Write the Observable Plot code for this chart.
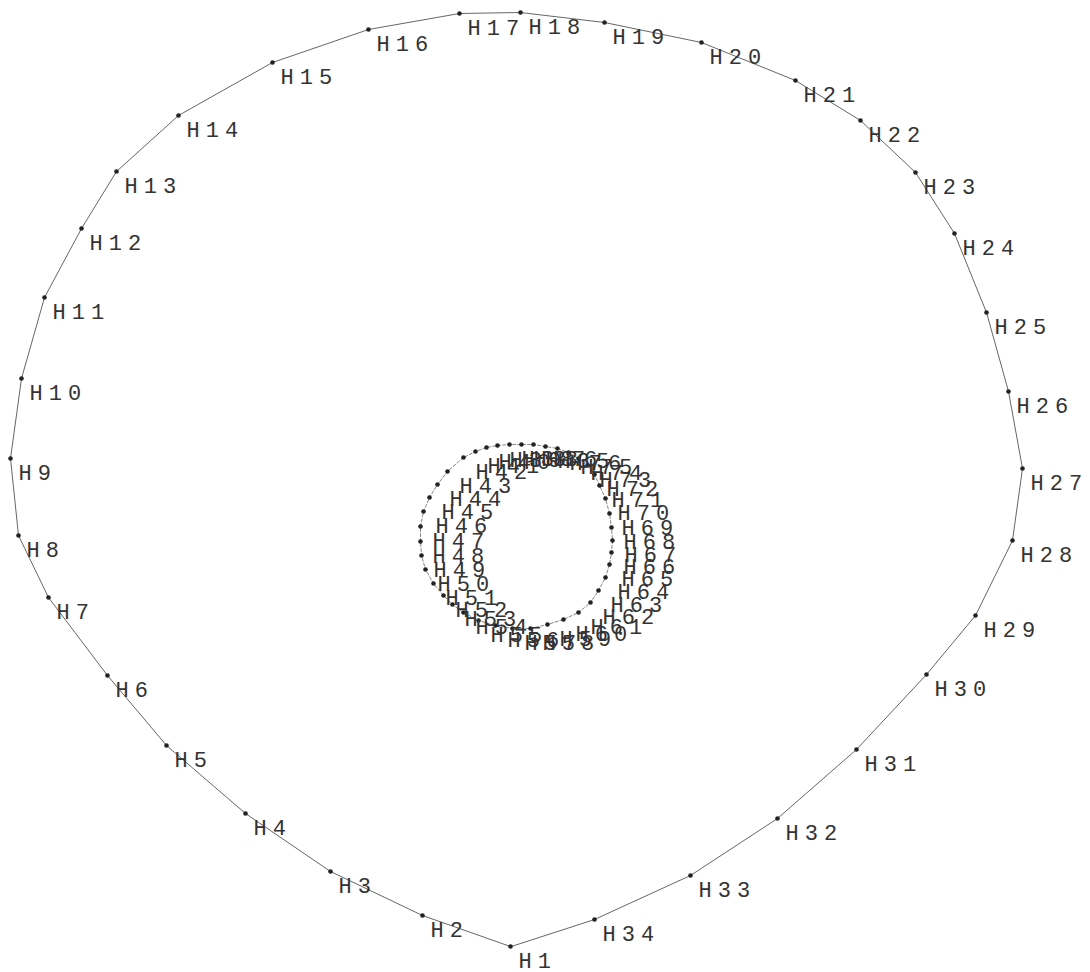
<!DOCTYPE html>
<html>
<head>
<meta charset="utf-8">
<script src="https://cdn.jsdelivr.net/npm/d3@7"></script>
<script src="https://cdn.jsdelivr.net/npm/@observablehq/plot@0.6"></script>
<style>
  html, body { margin: 0; padding: 0; background: #fff; }
  #chart svg { display: block; }
</style>
</head>
<body>
<div id="chart"></div>
<script>
// Outer contour points H1..H34 (x, y in section units)
const outerNames = ["H1","H2","H3","H4","H5","H6","H7","H8","H9","H10","H11","H12","H13","H14","H15","H16","H17","H18","H19","H20","H21","H22","H23","H24","H25","H26","H27","H28","H29","H30","H31","H32","H33","H34"];
const outerX = [-0.05,-0.93,-1.85,-2.70,-3.49,-4.08,-4.67,-4.97,-5.05,-4.94,-4.71,-4.34,-3.99,-3.37,-2.43,-1.47,-0.56,0.05,0.89,1.86,2.80,3.45,4.00,4.39,4.71,4.93,5.07,4.97,4.60,4.11,3.41,2.62,1.75,0.79];
const outerY = [-4.66,-4.35,-3.91,-3.33,-2.65,-1.95,-1.17,-0.55,0.22,1.02,1.83,2.52,3.09,3.65,4.18,4.51,4.67,4.68,4.58,4.38,4.00,3.60,3.08,2.47,1.68,0.89,0.12,-0.60,-1.35,-1.94,-2.69,-3.38,-3.95,-4.39];

// Inner ring points H35..H76
const innerNames = ["H35","H36","H37","H38","H39","H40","H41","H42","H43","H44","H45","H46","H47","H48","H49","H50","H51","H52","H53","H54","H55","H56","H57","H58","H59","H60","H61","H62","H63","H64","H65","H66","H67","H68","H69","H70","H71","H72","H73","H74","H75","H76"];
const innerX = [0.30,0.18,0.06,-0.06,-0.18,-0.29,-0.40,-0.52,-0.68,-0.78,-0.86,-0.92,-0.95,-0.95,-0.94,-0.90,-0.82,-0.72,-0.63,-0.52,-0.37,-0.20,-0.03,0.15,0.32,0.48,0.63,0.75,0.83,0.90,0.94,0.96,0.97,0.96,0.94,0.90,0.84,0.79,0.72,0.63,0.53,0.42];
const innerY = [0.34,0.36,0.36,0.36,0.35,0.33,0.29,0.23,0.09,-0.04,-0.17,-0.31,-0.46,-0.61,-0.75,-0.89,-1.03,-1.15,-1.24,-1.32,-1.40,-1.45,-1.48,-1.48,-1.44,-1.39,-1.32,-1.22,-1.10,-0.97,-0.84,-0.72,-0.60,-0.47,-0.33,-0.18,-0.05,0.06,0.15,0.22,0.28,0.32];

const outer = outerNames.map((name, i) => ({name, x: outerX[i], y: outerY[i]}));
const inner = innerNames.map((name, i) => ({name, x: innerX[i], y: innerY[i]}));

const labelFont = "'Liberation Mono', 'DejaVu Sans Mono', monospace";

const chart = Plot.plot({
  width: 1090,
  height: 972,
  margin: 0,
  style: "background: #fff; letter-spacing: 6px;",
  x: {domain: [-5.15, 5.75], axis: null},
  y: {domain: [-4.92, 4.80], axis: null},
  marks: [
    Plot.line(outer, {x: "x", y: "y", curve: "linear-closed", stroke: "#666", strokeWidth: 1}),
    Plot.line(inner, {x: "x", y: "y", curve: "linear-closed", stroke: "#888", strokeWidth: 1, strokeDasharray: "3,2"}),
    Plot.dot(outer, {x: "x", y: "y", r: 2.3, fill: "#222"}),
    Plot.dot(inner, {x: "x", y: "y", r: 2.3, fill: "#222"}),
    Plot.text(outer, {x: "x", y: "y", text: "name", dx: 8, dy: 14, textAnchor: "start", fontSize: 22, fontFamily: labelFont, fill: "#333"}),
    Plot.text(inner, {x: "x", y: "y", text: "name", dx: 12, dy: 14, textAnchor: "start", fontSize: 22, fontFamily: labelFont, fill: "#333"})
  ]
});
document.getElementById("chart").appendChild(chart);
</script>
</body>
</html>
